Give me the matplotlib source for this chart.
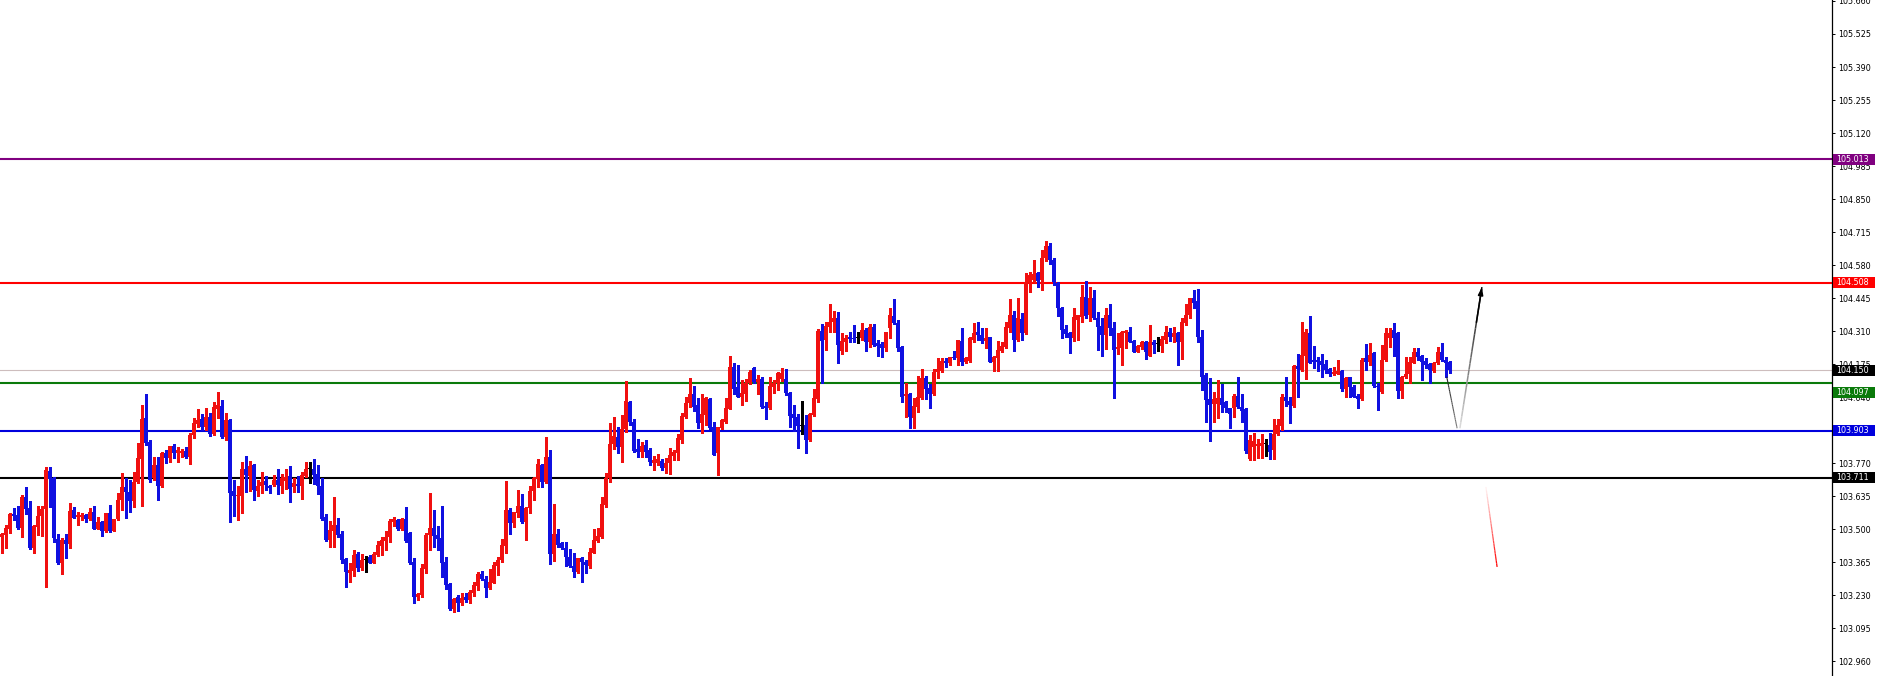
import numpy as np
import matplotlib
matplotlib.use("Agg")
import matplotlib.pyplot as plt
from matplotlib.collections import LineCollection
from matplotlib.patches import Rectangle
import matplotlib.transforms as mtransforms
from matplotlib.colors import to_rgb

# ---------------- data ----------------
opens = [
103.467,103.476,103.502,103.562,103.560,103.506,103.632,103.588,103.422,103.511,
103.554,103.581,103.738,103.708,103.459,103.361,103.456,103.438,103.577,103.549,
103.551,103.558,103.541,103.572,103.501,103.530,103.493,103.566,103.494,103.541,
103.620,103.674,103.652,103.615,103.693,103.787,103.953,103.858,103.708,103.763,
103.677,103.810,103.790,103.842,103.813,103.810,103.820,103.794,103.885,103.930,
103.949,103.917,103.961,103.889,103.990,104.004,103.876,103.947,103.658,103.634,
103.638,103.746,103.716,103.763,103.658,103.675,103.698,103.677,103.680,103.702,
103.677,103.699,103.718,103.672,103.684,103.677,103.718,103.746,103.747,103.727,
103.677,103.549,103.457,103.491,103.518,103.481,103.379,103.323,103.331,103.399,
103.341,103.375,103.386,103.364,103.395,103.432,103.450,103.468,103.528,103.538,
103.500,103.541,103.484,103.368,103.222,103.231,103.336,103.477,103.504,103.477,
103.463,103.368,103.276,103.173,103.222,103.200,103.222,103.211,103.241,103.268,
103.317,103.295,103.259,103.282,103.351,103.374,103.433,103.579,103.524,103.565,
103.595,103.528,103.586,103.656,103.704,103.763,103.695,103.797,103.399,103.481,
103.443,103.422,103.385,103.350,103.324,103.381,103.368,103.350,103.404,103.453,
103.470,103.599,103.708,103.849,103.876,103.838,103.909,104.022,103.940,103.827,
103.817,103.844,103.824,103.772,103.772,103.780,103.752,103.770,103.799,103.810,
103.865,103.960,104.015,104.053,104.008,103.936,103.967,104.033,103.919,103.810,
103.913,103.940,103.992,104.162,104.080,104.042,104.053,104.097,104.158,104.103,
104.113,104.004,103.994,104.083,104.097,104.113,104.114,104.056,103.970,103.960,
103.924,103.926,103.865,103.967,104.031,104.311,104.274,104.328,104.346,104.362,
104.229,104.267,104.285,104.283,104.280,104.281,104.315,104.267,104.328,104.260,
104.256,104.240,104.322,104.373,104.342,104.247,104.046,104.052,103.956,104.001,
104.038,104.120,104.076,104.052,104.142,104.147,104.188,104.178,104.206,104.199,
104.270,104.183,104.188,104.274,104.305,104.294,104.270,104.285,104.185,104.202,
104.229,104.247,104.324,104.376,104.274,104.360,104.301,104.512,104.519,104.546,
104.519,104.610,104.660,104.600,104.505,104.403,104.318,104.301,104.280,104.355,
104.369,104.451,104.376,104.446,104.365,104.331,104.294,104.378,104.324,104.235,
104.242,104.301,104.305,104.269,104.226,104.246,104.264,104.209,104.264,104.256,
104.250,104.273,104.305,104.287,104.301,104.267,104.342,104.376,104.444,104.433,
104.287,104.130,104.032,104.014,104.014,104.038,104.019,103.994,103.994,104.045,
103.998,103.990,103.786,103.837,103.840,103.840,103.847,103.844,103.824,103.889,
103.922,104.042,104.025,104.004,104.167,104.151,104.208,104.301,104.192,104.192,
104.188,104.175,104.154,104.134,104.134,104.148,104.072,104.121,104.083,104.045,
104.031,104.199,104.185,104.219,104.085,104.062,104.192,104.284,104.314,104.301,
104.066,104.121,104.134,104.181,104.226,104.208,104.189,104.175,104.148,104.178,
104.226,104.194,104.185]

highs = [
103.486,103.517,103.568,103.588,103.595,103.639,103.674,103.615,103.517,103.595,
103.596,103.753,103.753,103.712,103.479,103.463,103.481,103.606,103.590,103.572,
103.565,103.561,103.588,103.595,103.551,103.535,103.568,103.599,103.543,103.647,
103.729,103.708,103.701,103.735,103.854,104.008,104.053,103.865,103.794,103.794,
103.816,103.823,103.840,103.849,103.835,103.829,103.835,103.892,103.953,103.990,
103.971,103.994,103.975,104.022,104.062,104.028,103.974,103.950,103.702,103.677,
103.777,103.800,103.780,103.767,103.702,103.736,103.716,103.682,103.722,103.747,
103.727,103.747,103.759,103.709,103.718,103.736,103.777,103.777,103.786,103.763,
103.709,103.563,103.532,103.631,103.545,103.491,103.382,103.361,103.416,103.409,
103.399,103.389,103.395,103.405,103.450,103.468,103.491,103.541,103.549,103.541,
103.545,103.590,103.487,103.381,103.238,103.357,103.483,103.647,103.579,103.513,
103.595,103.388,103.279,103.218,103.231,103.238,103.241,103.252,103.286,103.327,
103.331,103.309,103.336,103.368,103.388,103.460,103.699,103.586,103.572,103.661,
103.643,103.592,103.677,103.715,103.786,103.767,103.876,103.824,103.603,103.500,
103.449,103.449,103.418,103.402,103.384,103.388,103.374,103.422,103.500,103.504,
103.633,103.729,103.936,103.958,103.919,103.967,104.106,104.026,103.949,103.868,
103.858,103.865,103.831,103.799,103.808,103.787,103.790,103.831,103.824,103.889,
103.974,104.039,104.117,104.086,104.035,104.053,104.042,104.035,103.940,103.919,
103.949,104.035,104.208,104.181,104.172,104.110,104.113,104.151,104.162,104.131,
104.124,104.022,104.121,104.110,104.144,104.158,104.154,104.062,104.008,103.971,
104.024,103.967,103.977,104.072,104.317,104.338,104.349,104.420,104.392,104.387,
104.301,104.294,104.305,104.335,104.308,104.342,104.324,104.338,104.338,104.274,
104.264,104.308,104.403,104.442,104.356,104.251,104.097,104.056,104.038,104.128,
104.155,104.128,104.093,104.155,104.199,104.202,104.199,104.206,104.229,104.274,
104.322,104.206,104.288,104.342,104.349,104.324,104.322,104.288,104.208,104.270,
104.267,104.349,104.442,104.392,104.444,104.383,104.546,104.553,104.600,104.553,
104.640,104.680,104.670,104.610,104.512,104.410,104.337,104.307,104.406,104.378,
104.498,104.515,104.491,104.478,104.387,104.362,104.403,104.419,104.348,104.301,
104.310,104.314,104.328,104.273,104.253,104.269,104.269,104.337,104.273,104.287,
104.291,104.332,104.321,104.328,104.307,104.362,104.419,104.446,104.478,104.482,
104.314,104.137,104.117,104.062,104.110,104.092,104.024,103.994,104.055,104.121,
104.053,103.994,103.885,103.892,103.867,103.889,103.867,103.895,103.949,103.949,
104.053,104.121,104.042,104.171,104.216,104.348,104.317,104.372,104.249,104.203,
104.216,104.192,104.158,104.164,104.192,104.151,104.121,104.124,104.090,104.053,
104.199,104.257,104.260,104.226,104.096,104.253,104.321,104.321,104.342,104.308,
104.126,104.203,104.203,104.243,104.243,104.212,104.199,104.181,104.185,104.246,
104.263,104.203,104.189]

lows = [
103.401,103.425,103.483,103.538,103.500,103.470,103.562,103.419,103.404,103.476,
103.474,103.265,103.592,103.449,103.358,103.316,103.381,103.422,103.545,103.517,
103.538,103.528,103.538,103.500,103.500,103.474,103.489,103.490,103.493,103.538,
103.579,103.547,103.572,103.592,103.688,103.596,103.844,103.695,103.701,103.620,
103.671,103.769,103.776,103.790,103.776,103.794,103.790,103.767,103.874,103.919,
103.906,103.906,103.882,103.886,103.954,103.872,103.865,103.531,103.555,103.536,
103.568,103.654,103.657,103.620,103.634,103.647,103.661,103.647,103.677,103.645,
103.647,103.664,103.613,103.654,103.654,103.623,103.713,103.688,103.686,103.643,
103.536,103.454,103.427,103.427,103.470,103.364,103.263,103.286,103.307,103.331,
103.334,103.327,103.361,103.361,103.391,103.395,103.416,103.446,103.514,103.495,
103.495,103.446,103.359,103.197,103.211,103.222,103.320,103.415,103.429,103.415,
103.306,103.254,103.170,103.163,103.167,103.190,103.204,103.200,103.227,103.252,
103.293,103.222,103.254,103.279,103.313,103.368,103.402,103.481,103.511,103.552,
103.524,103.456,103.565,103.620,103.674,103.674,103.690,103.357,103.370,103.429,
103.418,103.350,103.344,103.303,103.320,103.286,103.320,103.340,103.402,103.449,
103.463,103.592,103.695,103.827,103.813,103.776,103.899,103.926,103.817,103.794,
103.797,103.797,103.763,103.742,103.763,103.742,103.729,103.725,103.783,103.783,
103.851,103.953,104.001,103.985,103.913,103.892,103.926,103.909,103.804,103.722,
103.909,103.936,103.990,104.052,104.039,104.008,104.026,104.094,104.099,104.053,
103.994,103.949,103.990,104.056,104.069,104.107,104.049,103.917,103.903,103.831,
103.889,103.810,103.861,103.963,104.022,104.097,104.233,104.308,104.308,104.178,
104.215,104.229,104.267,104.267,104.260,104.274,104.229,104.247,104.251,104.210,
104.206,104.229,104.281,104.339,104.229,104.019,103.960,103.913,103.915,103.981,
104.033,104.033,103.997,104.049,104.120,104.144,104.165,104.172,104.196,104.172,
104.172,104.178,104.185,104.267,104.274,104.260,104.243,104.183,104.149,104.147,
104.226,104.240,104.308,104.229,104.270,104.274,104.297,104.471,104.512,104.491,
104.478,104.595,104.585,104.498,104.373,104.283,104.287,104.219,104.269,104.273,
104.348,104.362,104.351,104.359,104.233,104.209,104.239,104.294,104.035,104.215,
104.171,104.242,104.264,104.223,104.223,104.239,104.196,104.209,104.219,104.228,
104.226,104.260,104.269,104.264,104.171,104.196,104.337,104.362,104.406,104.264,
104.069,103.940,103.860,103.937,103.953,103.980,103.980,103.912,103.960,103.994,
103.940,103.813,103.783,103.783,103.790,103.790,103.799,103.786,103.786,103.885,
103.906,104.004,103.936,103.998,104.042,104.148,104.113,104.178,104.158,104.148,
104.124,104.140,104.126,104.130,104.134,104.066,104.042,104.039,104.039,103.994,
104.028,104.151,104.171,104.083,103.987,104.058,104.189,104.246,104.208,104.035,
104.035,104.117,104.096,104.178,104.194,104.110,104.158,104.099,104.144,104.175,
104.189,104.121,104.137]

closes = [
103.481,103.505,103.562,103.554,103.504,103.633,103.584,103.422,103.515,103.554,
103.581,103.742,103.704,103.463,103.361,103.456,103.438,103.575,103.547,103.557,
103.557,103.541,103.572,103.501,103.530,103.493,103.568,103.493,103.543,103.620,
103.674,103.652,103.615,103.695,103.790,103.951,103.854,103.701,103.763,103.677,
103.813,103.790,103.840,103.813,103.824,103.818,103.794,103.885,103.933,103.947,
103.919,103.960,103.889,103.999,104.008,103.876,103.947,103.650,103.634,103.641,
103.746,103.722,103.759,103.661,103.677,103.695,103.679,103.669,103.702,103.680,
103.709,103.712,103.664,103.691,103.677,103.722,103.746,103.746,103.722,103.677,
103.541,103.457,103.495,103.518,103.477,103.375,103.327,103.334,103.395,103.341,
103.375,103.375,103.364,103.399,103.436,103.457,103.470,103.532,103.541,103.500,
103.541,103.450,103.361,103.225,103.234,103.340,103.477,103.504,103.472,103.460,
103.363,103.272,103.173,103.214,103.200,103.218,103.211,103.242,103.272,103.317,
103.295,103.259,103.286,103.354,103.374,103.436,103.579,103.524,103.572,103.595,
103.528,103.586,103.656,103.708,103.765,103.695,103.794,103.399,103.481,103.436,
103.422,103.385,103.350,103.327,103.381,103.365,103.354,103.408,103.456,103.472,
103.603,103.708,103.849,103.881,103.838,103.909,104.026,103.940,103.821,103.817,
103.842,103.817,103.776,103.783,103.787,103.749,103.772,103.804,103.817,103.872,
103.964,104.015,104.053,104.001,103.936,103.971,104.035,103.915,103.804,103.919,
103.947,103.994,104.162,104.073,104.042,104.056,104.097,104.144,104.103,104.113,
103.998,103.994,104.086,104.099,104.137,104.140,104.056,103.963,103.953,103.922,
103.924,103.865,103.970,104.035,104.312,104.270,104.332,104.349,104.365,104.253,
104.270,104.283,104.278,104.278,104.280,104.315,104.267,104.326,104.253,104.251,
104.240,104.305,104.376,104.342,104.243,104.042,104.052,103.960,104.005,104.042,
104.117,104.074,104.052,104.144,104.155,104.188,104.178,104.203,104.199,104.274,
104.185,104.199,104.281,104.301,104.294,104.270,104.283,104.185,104.204,104.233,
104.251,104.328,104.376,104.274,104.362,104.301,104.510,104.539,104.542,104.515,
104.610,104.660,104.600,104.512,104.403,104.314,104.297,104.280,104.369,104.376,
104.451,104.373,104.446,104.362,104.328,104.294,104.378,104.324,104.233,104.246,
104.305,104.310,104.267,104.226,104.249,104.267,104.226,104.264,104.253,104.256,
104.276,104.305,104.287,104.301,104.267,104.346,104.378,104.444,104.427,104.287,
104.124,104.028,104.008,104.032,104.038,104.010,103.994,103.970,104.046,103.998,
103.985,103.821,103.865,103.862,103.848,103.851,103.847,103.817,103.889,103.926,
104.042,104.025,104.008,104.167,104.154,104.212,104.308,104.181,104.182,104.185,
104.171,104.151,104.134,104.144,104.147,104.072,104.117,104.080,104.042,104.031,
104.194,104.185,104.212,104.085,104.080,104.194,104.301,104.301,104.284,104.066,
104.124,104.134,104.185,104.226,104.203,104.185,104.171,104.151,104.181,104.226,
104.192,104.181,104.150]

# horizontal levels (price, colour) and the current price
level_prices = [105.013, 104.508, 104.097, 103.903, 103.711]
level_colors = ['#800080', '#ff0000', '#0a7a0a', '#0000dd', '#000000']
current_price = 104.150

# right-axis tick labels
tick_values = [105.660, 105.525, 105.390, 105.255, 105.120, 104.985, 104.850,
               104.715, 104.580, 104.445, 104.310, 104.175, 104.040, 103.905,
               103.770, 103.635, 103.500, 103.365, 103.230, 103.095, 102.960]

# hand-drawn projection lines (bar index, price)
down_leg_x = [361.3, 363.9]
down_leg_y = [104.124, 103.913]
up_leg_x = [364.6, 370.1]
up_leg_y = [103.913, 104.490]
red_leg_x = [371.1, 373.9]
red_leg_y = [103.673, 103.346]

# ---------------- figure ----------------
W, H = 1877, 676
AX_W = 1832
fig = plt.figure(figsize=(W / 100, H / 100), dpi=100)
fig.patch.set_facecolor('white')
ax = fig.add_axes([0, 0, AX_W / W, 1])
ax.set_facecolor('white')

n = len(opens)
x = np.arange(n)
o = np.array(opens); h = np.array(highs); l = np.array(lows); c = np.array(closes)

UP = '#f01010'
DN = '#1010e0'
cols = np.where(c > o, UP, np.where(c < o, DN, '#000000'))

ax.vlines(x, l, h, colors=cols, lw=0.75, antialiased=False, zorder=3)
body_bottom = np.minimum(o, c)
body_h = np.maximum(np.abs(c - o), 0.0042)
ax.bar(x, body_h, bottom=body_bottom, width=0.8, color=cols, linewidth=0,
       antialiased=False, zorder=3)

# levels
ax.axhline(current_price, color='#cdbdbd', lw=0.8, zorder=1)
for p, col in zip(level_prices, level_colors):
    ax.axhline(p, color=col, lw=1.5, zorder=2)


def gradient_line(xs, ys, c0, c1, lw, nseg=24):
    t = np.linspace(0, 1, nseg + 1)
    px = xs[0] + (xs[1] - xs[0]) * t
    py = ys[0] + (ys[1] - ys[0]) * t
    segs = [[(px[i], py[i]), (px[i + 1], py[i + 1])] for i in range(nseg)]
    a = np.array(to_rgb(c0)); b = np.array(to_rgb(c1))
    colors = [tuple(a + (b - a) * (i / (nseg - 1))) for i in range(nseg)]
    lc = LineCollection(segs, colors=colors, linewidths=lw, zorder=4)
    ax.add_collection(lc)


gradient_line(down_leg_x, down_leg_y, '#202020', '#808080', 0.8)
gradient_line(up_leg_x, up_leg_y, '#d8d8d8', '#000000', 1.1)
ax.annotate('', xy=(up_leg_x[1], up_leg_y[1]),
            xytext=(up_leg_x[1] - 0.25 * (up_leg_x[1] - up_leg_x[0]),
                    up_leg_y[1] - 0.25 * (up_leg_y[1] - up_leg_y[0])),
            arrowprops=dict(arrowstyle='-|>,head_length=0.45,head_width=0.15',
                            color='black', lw=1.1, shrinkA=0, shrinkB=0), zorder=5)
gradient_line(red_leg_x, red_leg_y, '#fff0f0', '#ff0000', 0.9)

# axes limits so bars sit on a 4 px grid
ax.set_xlim(-0.375, AX_W / 4 - 0.375)
ax.set_ylim(102.900, 105.664)

for s in ['top', 'left', 'bottom']:
    ax.spines[s].set_visible(False)
ax.spines['right'].set_color('black')
ax.spines['right'].set_linewidth(0.9)
ax.set_xticks([])
ax.yaxis.tick_right()
ax.set_yticks(tick_values)
ax.set_yticklabels([f'{v:.3f}' for v in tick_values])
ax.tick_params(axis='y', direction='out', length=2.2, width=0.7, pad=2.2,
               labelsize=5.8, colors='black')
for lab in ax.get_yticklabels():
    lab.set_fontfamily('DejaVu Sans')

# price boxes on the axis: fixed-size tags (42 x 11 px), offset in px
px_per_price = H / (105.664 - 102.900)
box_specs = [(105.013, '#800080', 0), (104.508, '#ff0000', 0),
             (current_price, '#000000', 0), (104.097, '#0a7a0a', -9),
             (103.903, '#0000dd', 0), (103.711, '#000000', 0)]
box_w_px, box_h_px = 42, 11
trans = mtransforms.blended_transform_factory(ax.transAxes, ax.transData)
for p, col, dy_px in box_specs:
    yc = p + dy_px / px_per_price
    rect = Rectangle((1.0 + 1.0 / AX_W, yc - box_h_px / 2 / px_per_price),
                     box_w_px / AX_W, box_h_px / px_per_price,
                     transform=trans, facecolor=col, edgecolor='none',
                     clip_on=False, zorder=9)
    ax.add_patch(rect)
    ax.text(1.0 + 4.5 / AX_W, yc, f'{p:.3f}', transform=trans,
            ha='left', va='center', color='white', fontsize=5.8,
            family='DejaVu Sans', clip_on=False, zorder=10)

fig.savefig('out.png', dpi=100, facecolor='white')
